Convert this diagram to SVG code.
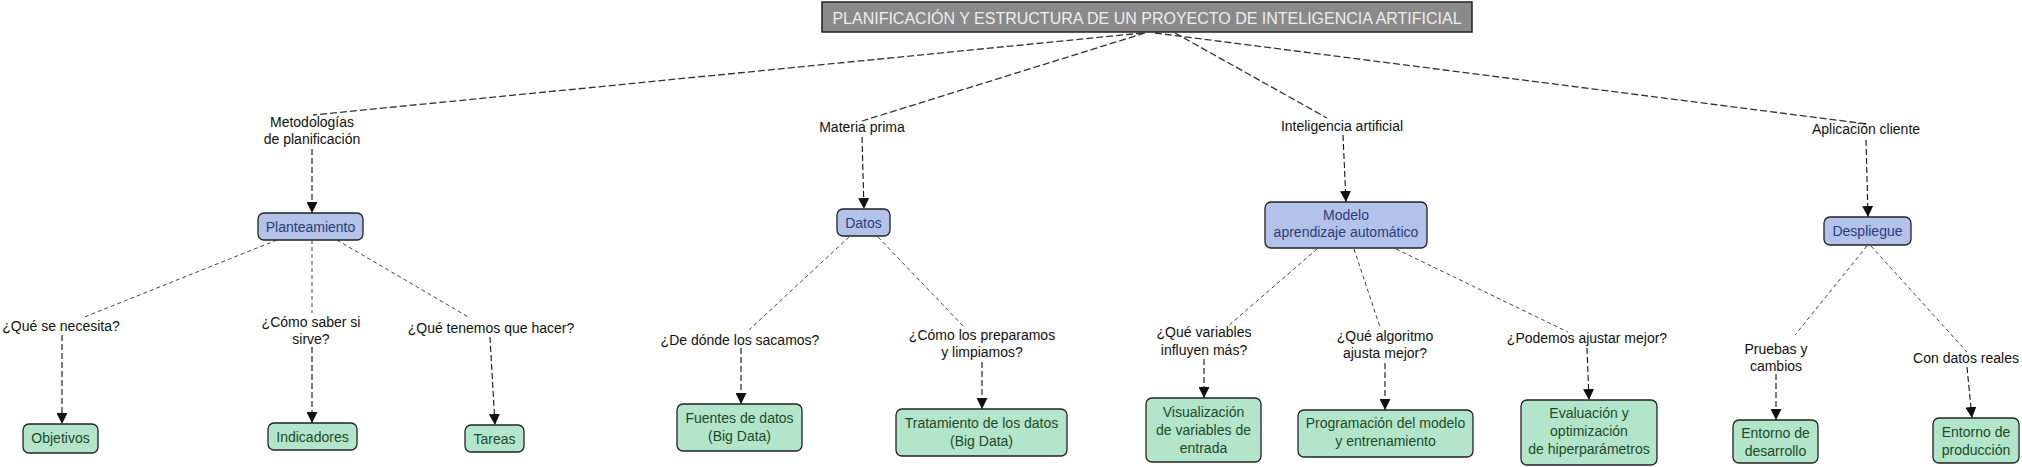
<svg xmlns="http://www.w3.org/2000/svg" width="2022" height="467" viewBox="0 0 2022 467">
<style>
text{font-family:"Liberation Sans",Arial,sans-serif;font-size:14px;text-anchor:middle}
.lbl{fill:#111}
.title rect{fill:#8a8a8a;stroke:#222;stroke-width:1.5}
.title text{fill:#eeeeee;font-size:16px}
.blue rect{fill:#b2c2e8;stroke:#222;stroke-width:1.3}
.blue text{fill:#2b3c78}
.green rect{fill:#b3e5cb;stroke:#222;stroke-width:1.3}
.green text{fill:#1a4a27}
.l1{stroke:#333;stroke-width:1.3;stroke-dasharray:7 3;fill:none}
.l2{stroke:#444;stroke-width:1;stroke-dasharray:4 3;fill:none}
.ar{stroke:#111;stroke-width:1.1;stroke-dasharray:6 3;fill:none;marker-end:url(#arr)}
</style>
<defs>
<marker id="arr" viewBox="0 0 10 10" refX="10" refY="5" markerWidth="11" markerHeight="11" markerUnits="userSpaceOnUse" orient="auto">
<path d="M0,0 L10,5 L0,10 z" fill="#111"/>
</marker>
</defs>
<rect width="2022" height="467" fill="#ffffff"/>
<g id="connectors">
<line class="l1" x1="1143" y1="33" x2="313" y2="115"/>
<line class="l1" x1="1145" y1="33" x2="862" y2="121"/>
<line class="l1" x1="1175" y1="33" x2="1327" y2="118"/>
<line class="l1" x1="1155" y1="33" x2="1867" y2="124"/>
<line class="ar" x1="312" y1="149" x2="312" y2="213"/>
<line class="ar" x1="862" y1="137" x2="864" y2="209"/>
<line class="ar" x1="1343" y1="135" x2="1346" y2="202"/>
<line class="ar" x1="1866" y1="140" x2="1868" y2="217"/>
<line class="l2" x1="277" y1="240" x2="82" y2="318"/>
<line class="l2" x1="312" y1="240" x2="312" y2="313"/>
<line class="l2" x1="337" y1="240" x2="470" y2="318"/>
<line class="l2" x1="849" y1="237" x2="749" y2="330"/>
<line class="l2" x1="878" y1="237" x2="965" y2="328"/>
<line class="l2" x1="1317" y1="249" x2="1227" y2="327"/>
<line class="l2" x1="1354" y1="249" x2="1380" y2="327"/>
<line class="l2" x1="1396" y1="249" x2="1568" y2="332"/>
<line class="l2" x1="1867" y1="246" x2="1795" y2="335"/>
<line class="l2" x1="1871" y1="246" x2="1967" y2="352"/>
<line class="ar" x1="62" y1="335" x2="62" y2="424"/>
<line class="ar" x1="312" y1="347" x2="312" y2="423"/>
<line class="ar" x1="490" y1="337" x2="495" y2="425"/>
<line class="ar" x1="741" y1="348" x2="741" y2="404"/>
<line class="ar" x1="982" y1="362" x2="982" y2="409"/>
<line class="ar" x1="1204" y1="359" x2="1204" y2="398"/>
<line class="ar" x1="1385" y1="363" x2="1385" y2="410"/>
<line class="ar" x1="1587" y1="348" x2="1589" y2="400"/>
<line class="ar" x1="1776" y1="374" x2="1776" y2="420"/>
<line class="ar" x1="1967" y1="367" x2="1972" y2="418"/>
</g>
<g id="labels" class="lbl">
<text x="312" y="127">Metodologías</text>
<text x="312" y="144">de planificación</text>
<text x="862" y="132">Materia prima</text>
<text x="1342" y="131">Inteligencia artificial</text>
<text x="1866" y="134">Aplicación cliente</text>
<text x="61" y="331">¿Qué se necesita?</text>
<text x="311" y="327">¿Cómo saber si</text>
<text x="311" y="344">sirve?</text>
<text x="491" y="333">¿Qué tenemos que hacer?</text>
<text x="740" y="345">¿De dónde los sacamos?</text>
<text x="982" y="340">¿Cómo los preparamos</text>
<text x="982" y="357">y limpiamos?</text>
<text x="1204" y="337">¿Qué variables</text>
<text x="1204" y="355">influyen más?</text>
<text x="1385" y="341">¿Qué algoritmo</text>
<text x="1385" y="358">ajusta mejor?</text>
<text x="1587" y="343">¿Podemos ajustar mejor?</text>
<text x="1776" y="354">Pruebas y</text>
<text x="1776" y="371">cambios</text>
<text x="1966" y="363">Con datos reales</text>
</g>
<g id="title" class="title">
<rect x="822" y="2" width="650" height="30"/>
<text x="1147" y="24">PLANIFICACIÓN Y ESTRUCTURA DE UN PROYECTO DE INTELIGENCIA ARTIFICIAL</text>
</g>
<g id="planteamiento" class="blue">
<rect x="258" y="213" width="105" height="27" rx="6"/>
<text x="310.5" y="231.5">Planteamiento</text>
</g>
<g id="datos" class="blue">
<rect x="837" y="209" width="53" height="27" rx="6"/>
<text x="863.5" y="227.5">Datos</text>
</g>
<g id="modelo" class="blue">
<rect x="1265" y="202" width="162" height="46" rx="6"/>
<text x="1346" y="220">Modelo</text>
<text x="1346" y="237">aprendizaje automático</text>
</g>
<g id="despliegue" class="blue">
<rect x="1824" y="217" width="87" height="28" rx="6"/>
<text x="1867.5" y="236">Despliegue</text>
</g>
<g id="objetivos" class="green">
<rect x="23" y="424" width="75" height="29" rx="6"/>
<text x="60.5" y="443">Objetivos</text>
</g>
<g id="indicadores" class="green">
<rect x="268" y="423" width="89" height="27" rx="6"/>
<text x="312.5" y="441.5">Indicadores</text>
</g>
<g id="tareas" class="green">
<rect x="465" y="425" width="59" height="27" rx="6"/>
<text x="494.5" y="443.5">Tareas</text>
</g>
<g id="fuentes" class="green">
<rect x="677" y="404" width="125" height="47" rx="6"/>
<text x="739.5" y="423">Fuentes de datos</text>
<text x="739.5" y="441">(Big Data)</text>
</g>
<g id="tratamiento" class="green">
<rect x="896" y="409" width="171" height="47" rx="6"/>
<text x="981.5" y="428">Tratamiento de los datos</text>
<text x="981.5" y="446">(Big Data)</text>
</g>
<g id="visualizacion" class="green">
<rect x="1146" y="398" width="115" height="64" rx="6"/>
<text x="1203.5" y="417">Visualización</text>
<text x="1203.5" y="435">de variables de</text>
<text x="1203.5" y="453">entrada</text>
</g>
<g id="programacion" class="green">
<rect x="1298" y="410" width="175" height="47" rx="6"/>
<text x="1385.5" y="428">Programación del modelo</text>
<text x="1385.5" y="446">y entrenamiento</text>
</g>
<g id="evaluacion" class="green">
<rect x="1521" y="400" width="136" height="65" rx="6"/>
<text x="1589" y="418">Evaluación y</text>
<text x="1589" y="436">optimización</text>
<text x="1589" y="454">de hiperparámetros</text>
</g>
<g id="desarrollo" class="green">
<rect x="1733" y="420" width="85" height="43" rx="6"/>
<text x="1775.5" y="438">Entorno de</text>
<text x="1775.5" y="456">desarrollo</text>
</g>
<g id="produccion" class="green">
<rect x="1933" y="418" width="86" height="45" rx="6"/>
<text x="1976" y="437">Entorno de</text>
<text x="1976" y="455">producción</text>
</g>
</svg>
